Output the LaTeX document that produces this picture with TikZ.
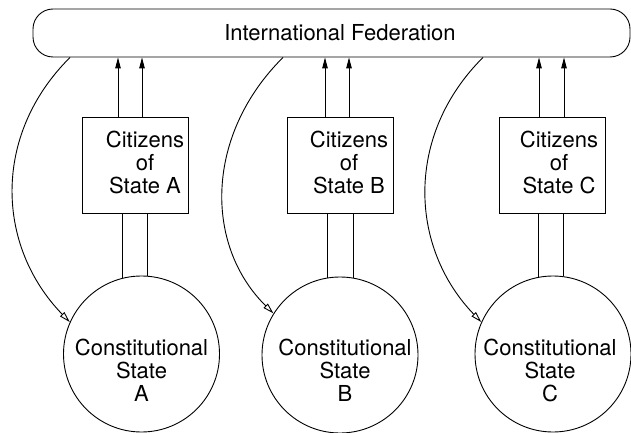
\documentclass[tikz,border=0pt]{standalone}
\usepackage{fontspec}
\setmainfont{TeX Gyre Heros}
\usetikzlibrary{arrows.meta}
\begin{document}
\begin{tikzpicture}[x=1pt,y=-1pt,
  line width=0.9pt,
  every node/.style={inner sep=0pt},
  txt/.style={align=center,font=\fontsize{22}{23}\selectfont},
  fedbox/.style={draw,rounded corners=20pt,minimum width=597pt,minimum height=48pt},
  citbox/.style={draw,rectangle,minimum width=106pt,minimum height=96pt},
  statecirc/.style={draw,circle,minimum size=156pt},
  uptip/.style={-{Triangle[length=11pt,width=5.5pt]}},
  tip/.style={-{Triangle[open,length=11pt,width=6pt]}}]
\useasboundingbox (0,0) rectangle (631,433);
% federation
\node[fedbox] (fed) at (331.5,33) {};
\node[txt] (fedt) at (340,33) {International Federation};
% boxes
\node[citbox] (bA) at (135,165) {};
\node[citbox] (bB) at (340,165) {};
\node[citbox] (bC) at (552.5,165) {};
\node[txt] (tA) at (145,162) {Citizens\\of\\State A};
\node[txt] (tB) at (349,162) {Citizens\\of\\State B};
\node[txt] (tC) at (559,162) {Citizens\\of\\State C};
% circles
\node[statecirc] (cA) at (141.5,354) {};
\node[statecirc] (cB) at (340,355) {};
\node[statecirc] (cC) at (553,354) {};
\node[txt] (sA) at (141.5,370) {Constitutional\\State\\A};
\node[txt] (sB) at (345,370) {Constitutional\\State\\B};
\node[txt] (sC) at (550,370) {Constitutional\\State\\C};
% up arrows
\foreach \b/\d in {bA/-17,bA/7,bB/-15,bB/9,bC/-13.5,bC/11.5}{
  \draw[uptip] ([xshift=\d pt]\b.north) -- ([xshift=\d pt]\b.north |- fed.south);
}
% lower links
\foreach \b/\c/\a in {bA/cA/104,bA/cA/86,bB/cB/99,bB/cB/80,bC/cC/101,bC/cC/82.6}{
  \draw (\b.south -| \c.\a) -- (\c.\a);
}
% curved arrows
\coordinate (kA) at (fed.south -| 70,0);
\coordinate (kB) at (fed.south -| 283,0);
\coordinate (kC) at (fed.south -| 483,0);
\draw[tip] (kA) .. controls (-8,135) and (-4,246) .. (cA.156);
\draw[tip] (kB) .. controls (205,135) and (204,245) .. (cB.148);
\draw[tip] (kC) .. controls (405,135) and (409,247) .. (cC.156);
\end{tikzpicture}
\end{document}
